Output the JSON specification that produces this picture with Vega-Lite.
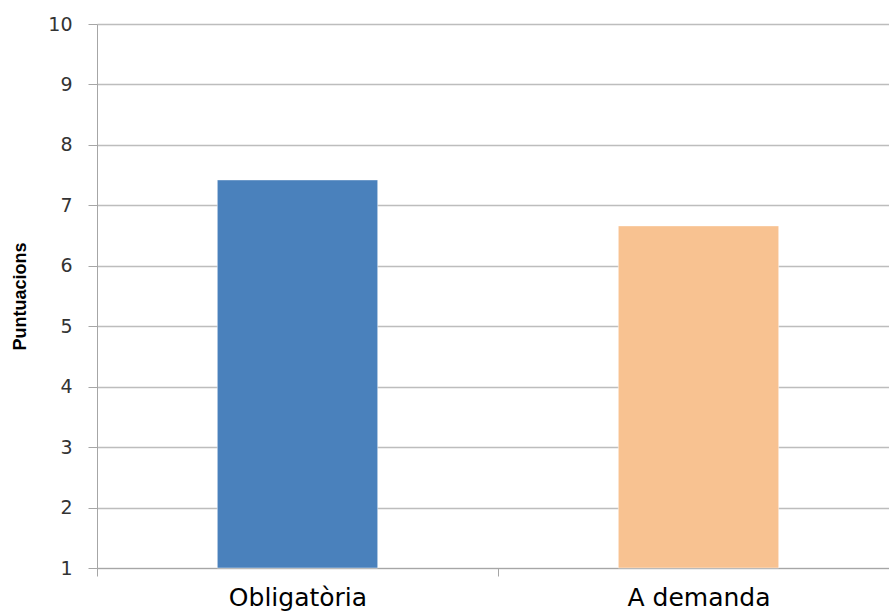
{
  "$schema": "https://vega.github.io/schema/vega-lite/v6.json",
  "autosize": "none",
  "padding": {"left": 97, "top": 24, "right": -10, "bottom": 43},
  "width": 802,
  "height": 544,
  "background": "#ffffff",
  "config": {"view": {"stroke": null}},
  "data": {
    "values": [
      {"grup": "Obligatòria", "puntuacio": 7.42},
      {"grup": "A demanda", "puntuacio": 6.66}
    ]
  },
  "mark": {"type": "bar", "width": {"band": 0.4}, "strokeWidth": 1, "stroke": "#ffffff", "strokeOpacity": 0.45},
  "encoding": {
    "x": {
      "field": "grup",
      "type": "nominal",
      "sort": null,
      "scale": {"paddingInner": 0, "paddingOuter": 0},
      "axis": {
        "title": null,
        "labelAngle": 0,
        "labelFont": "DejaVu Sans",
        "labelFontSize": 25,
        "labelColor": "#000000",
        "labelPadding": 9,
        "domainColor": "#a6a6a6",
        "tickColor": "#a6a6a6",
        "tickSize": 8,
        "tickBand": "extent",
        "grid": false
      }
    },
    "y": {
      "field": "puntuacio",
      "type": "quantitative",
      "scale": {"domain": [1, 10], "nice": false, "zero": false},
      "axis": {
        "title": "Puntuacions",
        "titleFont": "Liberation Sans",
        "titleFontWeight": "bold",
        "titleFontSize": 18,
        "titleColor": "#000000",
        "titlePadding": 18,
        "values": [1, 2, 3, 4, 5, 6, 7, 8, 9, 10],
        "labelFont": "DejaVu Sans",
        "labelFontSize": 19,
        "labelColor": "#333333",
        "labelPadding": 16,
        "tickSize": 9,
        "tickColor": "#a6a6a6",
        "domainColor": "#a6a6a6",
        "grid": true,
        "gridColor": "#bdbdbd",
        "gridWidth": 1.5
      }
    },
    "y2": {"datum": 1},
    "color": {
      "field": "grup",
      "type": "nominal",
      "sort": null,
      "scale": {"domain": ["Obligatòria", "A demanda"], "range": ["#4a81bc", "#f8c291"]},
      "legend": null
    }
  }
}
